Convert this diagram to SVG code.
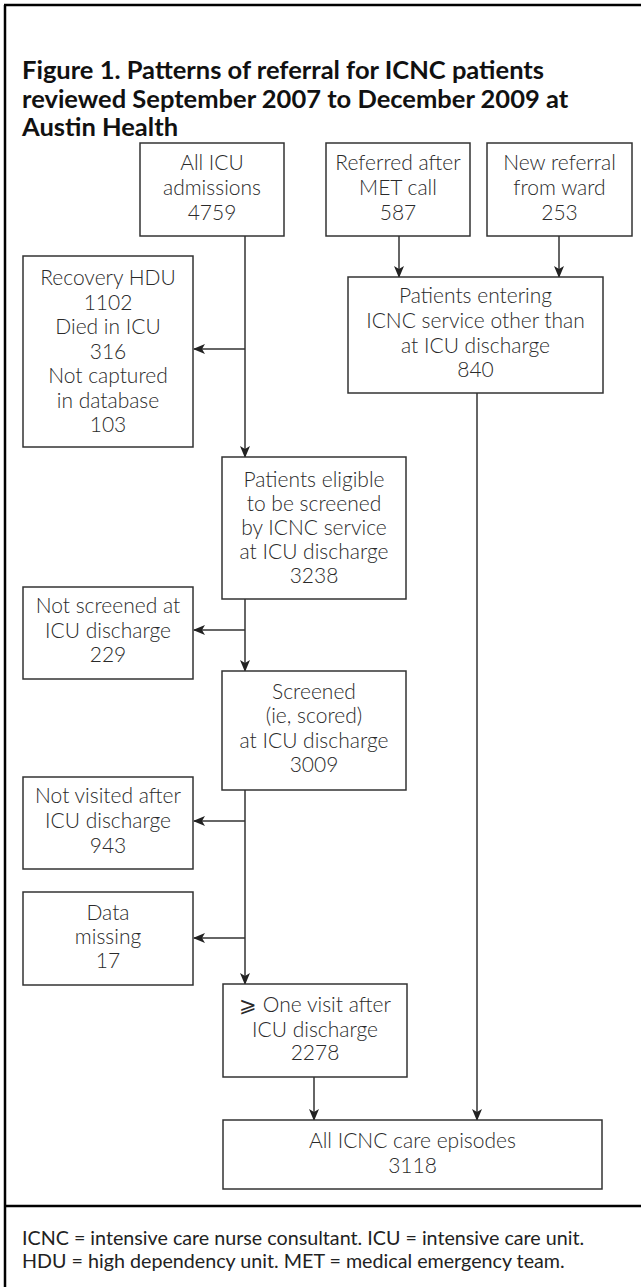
<svg xmlns="http://www.w3.org/2000/svg" width="641" height="1287" viewBox="0 0 641 1287">
<defs>
<style>
.frame{stroke:#000;stroke-width:2.5;fill:none}
.box{fill:#fff;stroke:#333;stroke-width:1.5}
.t{font-family:Lato,"Open Sans","Liberation Sans",sans-serif;font-weight:300;font-size:21px;fill:#2a2a2a;text-anchor:middle}
.title{font-family:Lato,"Liberation Sans",Arial,sans-serif;font-weight:bold;font-size:25.5px;fill:#111}
.foot{font-family:Lato,"Open Sans","Liberation Sans",sans-serif;font-weight:400;font-size:19.7px;fill:#222}
.c{stroke:#333;stroke-width:1.5;fill:none}
.a{marker-end:url(#arr)}
</style>
<marker id="arr" markerUnits="userSpaceOnUse" markerWidth="12" markerHeight="10" viewBox="0 0 12 10" refX="11" refY="5" orient="auto">
<path d="M0,0 L12,5 L0,10 L3,5 Z" fill="#222"/>
</marker>
</defs>
<rect width="641" height="1287" fill="#fff"/>
<g id="frame">
<line class="frame" x1="5" y1="5" x2="5" y2="1287"/>
<line class="frame" x1="4" y1="5" x2="641" y2="5"/>
<line class="frame" x1="4" y1="1206" x2="641" y2="1206"/>
</g>
<g id="title">
<text class="title" x="22" y="79">Figure 1. Patterns of referral for ICNC patients</text>
<text class="title" x="22" y="107.5">reviewed September 2007 to December 2009 at</text>
<text class="title" x="22" y="136">Austin Health</text>
</g>
<g id="connectors">
<line class="c a" x1="245" y1="236" x2="245" y2="457"/>
<line class="c a" x1="245" y1="349" x2="194" y2="349"/>
<line class="c a" x1="399" y1="236" x2="399" y2="277"/>
<line class="c a" x1="559" y1="236" x2="559" y2="277"/>
<line class="c a" x1="245" y1="599" x2="245" y2="671"/>
<line class="c a" x1="245" y1="630" x2="194" y2="630"/>
<line class="c a" x1="245" y1="790" x2="245" y2="984"/>
<line class="c a" x1="245" y1="821" x2="194" y2="821"/>
<line class="c a" x1="245" y1="938" x2="194" y2="938"/>
<line class="c a" x1="314" y1="1077" x2="314" y2="1120"/>
<line class="c a" x1="477" y1="393" x2="477" y2="1120"/>
</g>
<g id="n-all-icu">
<rect class="box" x="140" y="143" width="144" height="93"/>
<text class="t" x="212" y="170">All ICU</text>
<text class="t" x="212" y="195">admissions</text>
<text class="t" x="212" y="220">4759</text>
</g>
<g id="n-met">
<rect class="box" x="326" y="143" width="144" height="93"/>
<text class="t" x="398" y="170">Referred after</text>
<text class="t" x="398" y="195">MET call</text>
<text class="t" x="398" y="220">587</text>
</g>
<g id="n-ward">
<rect class="box" x="487" y="143" width="145" height="93"/>
<text class="t" x="559.5" y="170">New referral</text>
<text class="t" x="559.5" y="195">from ward</text>
<text class="t" x="559.5" y="220">253</text>
</g>
<g id="n-other">
<rect class="box" x="348" y="277" width="255" height="116"/>
<text class="t" x="475.5" y="303">Patients entering</text>
<text class="t" x="475.5" y="328">ICNC service other than</text>
<text class="t" x="475.5" y="353">at ICU discharge</text>
<text class="t" x="475.5" y="377">840</text>
</g>
<g id="n-excluded">
<rect class="box" x="23" y="256" width="170" height="191"/>
<text class="t" x="108" y="285">Recovery HDU</text>
<text class="t" x="108" y="309.5">1102</text>
<text class="t" x="108" y="334">Died in ICU</text>
<text class="t" x="108" y="358.5">316</text>
<text class="t" x="108" y="383">Not captured</text>
<text class="t" x="108" y="407.5">in database</text>
<text class="t" x="108" y="432">103</text>
</g>
<g id="n-eligible">
<rect class="box" x="222" y="457" width="184" height="142"/>
<text class="t" x="314" y="487">Patients eligible</text>
<text class="t" x="314" y="511">to be screened</text>
<text class="t" x="314" y="535">by ICNC service</text>
<text class="t" x="314" y="559">at ICU discharge</text>
<text class="t" x="314" y="583">3238</text>
</g>
<g id="n-not-screened">
<rect class="box" x="23" y="587" width="170" height="92"/>
<text class="t" x="108" y="613">Not screened at</text>
<text class="t" x="108" y="638">ICU discharge</text>
<text class="t" x="108" y="662">229</text>
</g>
<g id="n-screened">
<rect class="box" x="222" y="671" width="184" height="119"/>
<text class="t" x="314" y="699">Screened</text>
<text class="t" x="314" y="723">(ie, scored)</text>
<text class="t" x="314" y="748">at ICU discharge</text>
<text class="t" x="314" y="772">3009</text>
</g>
<g id="n-not-visited">
<rect class="box" x="23" y="777" width="170" height="92"/>
<text class="t" x="108" y="803">Not visited after</text>
<text class="t" x="108" y="828">ICU discharge</text>
<text class="t" x="108" y="853">943</text>
</g>
<g id="n-missing">
<rect class="box" x="23" y="892" width="170" height="93"/>
<text class="t" x="108" y="920">Data</text>
<text class="t" x="108" y="944">missing</text>
<text class="t" x="108" y="968">17</text>
</g>
<g id="n-visit">
<rect class="box" x="223" y="984" width="184" height="93"/>
<text class="t" x="315" y="1012">⩾ One visit after</text>
<text class="t" x="315" y="1037">ICU discharge</text>
<text class="t" x="315" y="1060">2278</text>
</g>
<g id="n-all-icnc">
<rect class="box" x="223" y="1120" width="379" height="69"/>
<text class="t" x="412.5" y="1148">All ICNC care episodes</text>
<text class="t" x="412.5" y="1173">3118</text>
</g>
<g id="footer">
<text class="foot" x="22" y="1245">ICNC = intensive care nurse consultant. ICU = intensive care unit.</text>
<text class="foot" x="22" y="1268">HDU = high dependency unit. MET = medical emergency team.</text>
</g>
</svg>
